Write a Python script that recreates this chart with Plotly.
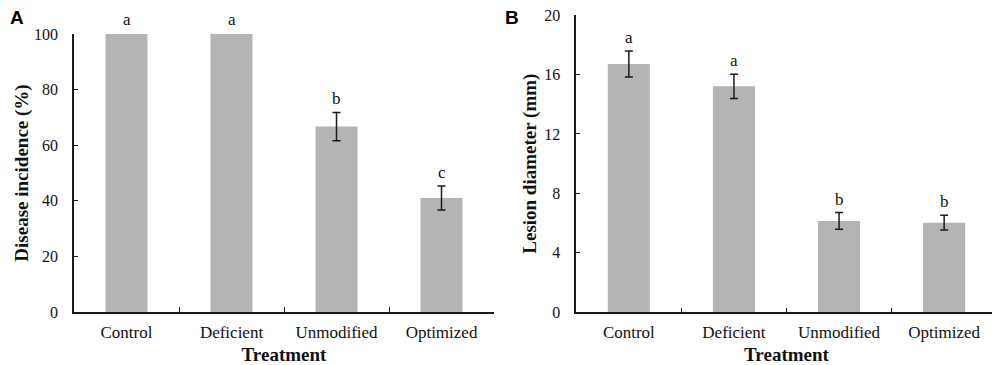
import plotly.graph_objects as go

treatments = ["Control", "Deficient", "Unmodified", "Optimized"]
incidence = [100, 100, 66.7, 41.0]
incidence_err = [0, 0, 5.1, 4.3]
incidence_letters = ["a", "a", "b", "c"]
lesion = [16.7, 15.2, 6.15, 6.03]
lesion_err = [0.87, 0.82, 0.56, 0.50]
lesion_letters = ["a", "a", "b", "b"]

BAR = "#b4b4b4"
INK = "#1a1a1a"
SERIF = "Liberation Serif, Times New Roman, serif"

# page has an 8px body margin, so the figure is sized to fill the rest of the window
W, H = 992, 357

fig = go.Figure()

panels = [
    ("x", "y", incidence, incidence_err, incidence_letters),
    ("x2", "y2", lesion, lesion_err, lesion_letters),
]
for xa, ya, vals, errs, letters in panels:
    fig.add_trace(go.Bar(x=treatments, y=vals, xaxis=xa, yaxis=ya, width=0.4,
                         marker=dict(color=BAR, line=dict(width=0)), showlegend=False,
                         hoverinfo="x+y"))
    ex = [t for t, e in zip(treatments, errs) if e > 0]
    ey = [v for v, e in zip(vals, errs) if e > 0]
    ee = [e for e in errs if e > 0]
    fig.add_trace(go.Scatter(x=ex, y=ey, xaxis=xa, yaxis=ya, mode="markers",
                             marker=dict(size=1, opacity=0), showlegend=False,
                             error_y=dict(type="data", array=ee, visible=True,
                                          color=INK, thickness=1.5, width=4)))
    for t, v, e, l in zip(treatments, vals, errs, letters):
        fig.add_annotation(x=t, y=v + e, xref=xa, yref=ya, text=l, showarrow=False,
                           yanchor="bottom", yshift=2 if e > 0 else 3,
                           font=dict(family=SERIF, size=17, color="#111"))

xcommon = dict(type="category", categoryorder="array", categoryarray=treatments,
               range=[-0.5, 3.5], showline=True, linecolor=INK, linewidth=1.5,
               ticks="inside", tickson="boundaries", ticklen=5, tickwidth=1.3,
               tickcolor=INK, showgrid=False, zeroline=False, automargin=False,
               ticklabelstandoff=4,
               tickfont=dict(family=SERIF, size=17, color="#111"),
               title=dict(text="<b>Treatment</b>", standoff=7,
                          font=dict(family=SERIF, size=19, color="#111")))
ycommon = dict(showline=True, linecolor=INK, linewidth=1.5, ticks="inside",
               ticklen=4, tickwidth=1.3, tickcolor=INK, showgrid=False,
               zeroline=False, ticklabelstandoff=11, automargin=False,
               ticklabeloverflow="allow",
               tickfont=dict(family=SERIF, size=16, color="#111"))

fig.update_layout(
    width=W, height=H, margin=dict(l=0, r=0, t=0, b=0),
    paper_bgcolor="white", plot_bgcolor="white", bargap=0.6,
    xaxis=dict(domain=[66 / W, 486 / W], anchor="y", **xcommon),
    yaxis=dict(domain=[(H - 304) / H, (H - 26) / H], anchor="x", range=[0, 100],
               tickvals=[0, 20, 40, 60, 80, 100],
               title=dict(text="<b>Disease incidence (%)</b>", standoff=0,
                          font=dict(family=SERIF, size=19, color="#111")), **ycommon),
    xaxis2=dict(domain=[568.3 / W, 988.7 / W], anchor="y2", **xcommon),
    yaxis2=dict(domain=[(H - 304.3) / H, (H - 7) / H], anchor="x2", range=[0, 20],
                tickvals=[0, 4, 8, 12, 16, 20],
                title=dict(text="<b>Lesion diameter (mm)</b>", standoff=3,
                           font=dict(family=SERIF, size=19, color="#111")), **ycommon),
)

fig.add_annotation(x=0.0, y=1.0, xref="paper", yref="paper", text="<b>A</b>", showarrow=False,
                   xanchor="left", yanchor="top", yshift=3,
                   font=dict(family="Liberation Sans, Arial, sans-serif", size=19, color="#000"))
fig.add_annotation(x=(503 - 8) / W, y=1.0, xref="paper", yref="paper", text="<b>B</b>", showarrow=False,
                   xanchor="left", yanchor="top", yshift=3,
                   font=dict(family="Liberation Sans, Arial, sans-serif", size=19, color="#000"))

fig.write_html("out.html")
